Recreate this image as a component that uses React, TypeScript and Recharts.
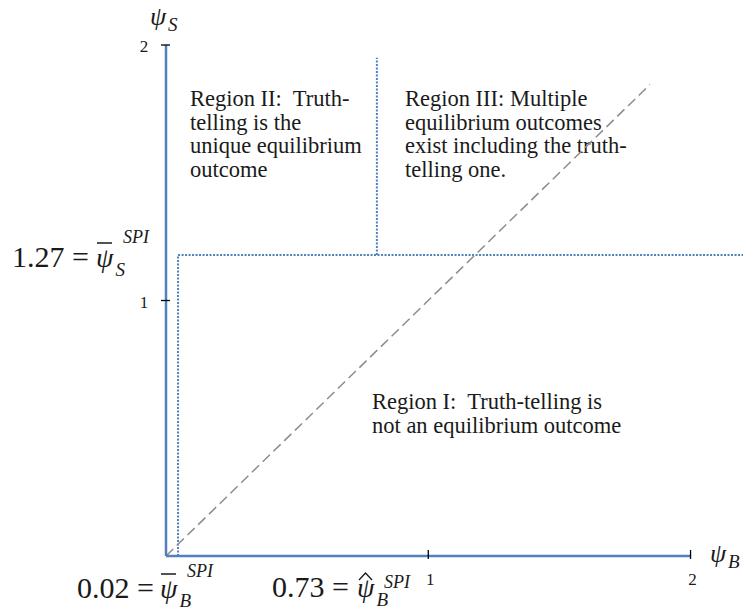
import { ComposedChart, Line, XAxis, YAxis, ReferenceLine, Customized } from "recharts";

// psi_B / psi_S thresholds as drawn in the figure (data units)
const xTicks = [1, 2];
const yTicks = [1, 2];
const axisEnd = 2;
const sBar = 1.178; // horizontal dotted line (psi_S bar)
const bBar = 0.046; // left vertical dotted line (psi_B bar)
const bHat = 0.804; // upper vertical dotted line (psi_B hat)
const dividerTop = 1.95;
const dottedEnd = 2.2;
const diagonal = [
  { b: 0, s: 0 },
  { b: 1.845, s: 1.845 },
];

const regionI = ["Region I:  Truth-telling is", "not an equilibrium outcome"];
const regionII = ["Region II:  Truth-", "telling is the", "unique equilibrium", "outcome"];
const regionIII = ["Region III: Multiple", "equilibrium outcomes", "exist including the truth-", "telling one."];
const thresholdLabels = ["1.27 =", "0.02 =", "0.73 ="];

const BLUE = "#4f81bd";
const SERIF = "Liberation Serif";
const INK = "#1a1a1a";

function XTick({ x, y, payload }: any) {
  return (
    <g>
      <line x1={x} x2={x} y1={y - 6} y2={y + 3} stroke="#000" strokeWidth={1.3} />
      <text x={x + 2} y={y + 29} textAnchor="middle" fontSize={17} fontFamily={SERIF} fill={INK}>
        {payload.value}
      </text>
    </g>
  );
}

function YTick({ x, y, payload }: any) {
  return (
    <g>
      <line x1={x - 5} x2={x + 4} y1={y} y2={y} stroke="#000" strokeWidth={1.3} />
      <text x={x - 22} y={y + 7} textAnchor="middle" fontSize={17} fontFamily={SERIF} fill={INK}>
        {payload.value}
      </text>
    </g>
  );
}

function Block({ lines, x, y }: { lines: string[]; x: number; y: number }) {
  return (
    <g>
      {lines.map((l, i) => (
        <text key={i} x={x} y={y + i * 23.5} fontSize={22.5} fontFamily={SERIF} fill={INK} xmlSpace="preserve">
          {l}
        </text>
      ))}
    </g>
  );
}

// "value = psi" with sub/superscript
function Threshold({ label, lx, x, y, sub, supY, bar, hat }: any) {
  return (
    <g fill={INK} fontFamily={SERIF}>
      <text fontSize={30}>
        <tspan x={lx} y={y}>{label}</tspan>
        <tspan x={x} y={y} fontSize={28} fontStyle="italic">ψ</tspan>
        <tspan x={x + 19.5} y={y + 9} fontSize={19} fontStyle="italic">{sub}</tspan>
        <tspan x={x + 27} y={supY} fontSize={18} fontStyle="italic">SPI</tspan>
      </text>
      {bar && <line x1={x + 1} x2={x + 16} y1={y - 24} y2={y - 24} stroke={INK} strokeWidth={1.5} />}
      {hat && (
        <polyline
          points={`${x + 2},${y - 17} ${x + 8.5},${y - 24} ${x + 15},${y - 17}`}
          fill="none"
          stroke={INK}
          strokeWidth={1.3}
        />
      )}
    </g>
  );
}

function AxisName({ x, y, sub }: any) {
  return (
    <text fontFamily={SERIF} fill={INK} fontStyle="italic" fontSize={26}>
      <tspan x={x} y={y}>ψ</tspan>
      <tspan x={x + 18} y={y + 6} fontSize={19}>{sub}</tspan>
    </text>
  );
}

function Annotations() {
  return (
    <g>
      <Block lines={regionII} x={190} y={106} />
      <Block lines={regionIII} x={405} y={106} />
      <Block lines={regionI} x={372} y={409} />

      <AxisName x={150} y={25} sub="S" />
      <AxisName x={710} y={562} sub="B" />

      <Threshold label={thresholdLabels[0]} lx={12} x={96} y={267} sub="S" supY={243} bar />
      <Threshold label={thresholdLabels[1]} lx={77} x={160} y={598} sub="B" supY={577} bar />
      <Threshold label={thresholdLabels[2]} lx={272} x={357} y={597} sub="B" supY={588} hat />
    </g>
  );
}

export default function App() {
  return (
    <div style={{ position: "absolute", left: 0, top: 0, width: 746, height: 613, background: "#fff" }}>
      <ComposedChart
        width={746}
        height={613}
        data={diagonal}
        margin={{ top: 45, right: 3, bottom: 56, left: 165 }}
      >
        <XAxis
          type="number"
          dataKey="b"
          domain={[0, dottedEnd]}
          ticks={xTicks}
          interval={0}
          height={1}
          axisLine={false}
          tickLine={false}
          tickSize={0}
          tickMargin={0}
          tick={<XTick />}
          allowDataOverflow
        />
        <YAxis
          type="number"
          dataKey="s"
          domain={[0, axisEnd]}
          ticks={yTicks}
          interval={0}
          width={1}
          axisLine={false}
          tickLine={false}
          tickSize={0}
          tickMargin={0}
          tick={<YTick />}
          allowDataOverflow
        />
        <ReferenceLine
          segment={[{ x: bBar, y: sBar }, { x: dottedEnd, y: sBar }]}
          stroke={BLUE}
          strokeWidth={2}
          strokeDasharray="2 1.5"
          ifOverflow="visible"
        />
        <ReferenceLine
          segment={[{ x: bBar, y: 0 }, { x: bBar, y: sBar }]}
          stroke={BLUE}
          strokeWidth={2}
          strokeDasharray="2 1.5"
          ifOverflow="visible"
        />
        <ReferenceLine
          segment={[{ x: bHat, y: sBar }, { x: bHat, y: dividerTop }]}
          stroke={BLUE}
          strokeWidth={2}
          strokeDasharray="2 1.5"
          ifOverflow="visible"
        />
        <Line
          dataKey="s"
          stroke="#8c8c8c"
          strokeWidth={1.5}
          strokeDasharray="10 5"
          dot={false}
          activeDot={false}
          isAnimationActive={false}
        />
        <ReferenceLine
          segment={[{ x: 0, y: 0 }, { x: axisEnd, y: 0 }]}
          stroke={BLUE}
          strokeWidth={2.5}
          ifOverflow="visible"
        />
        <ReferenceLine
          segment={[{ x: 0, y: 0 }, { x: 0, y: axisEnd }]}
          stroke={BLUE}
          strokeWidth={2.5}
          ifOverflow="visible"
        />
        <Customized component={<Annotations />} />
      </ComposedChart>
    </div>
  );
}
